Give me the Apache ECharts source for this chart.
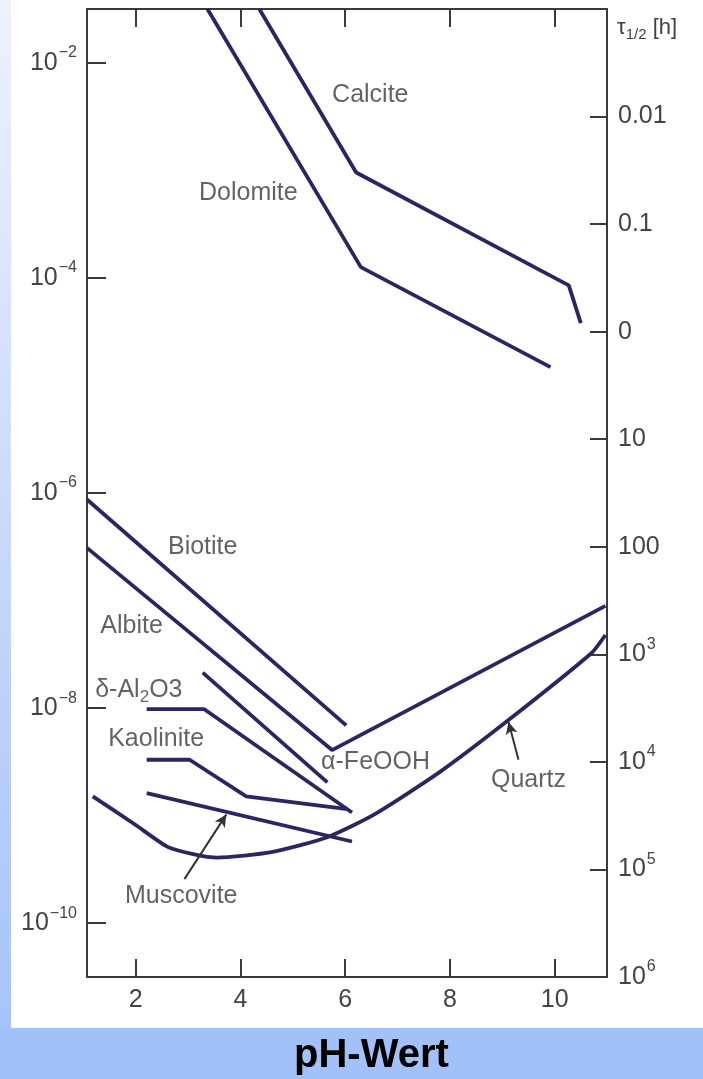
<!DOCTYPE html>
<html lang="de">
<head>
<meta charset="UTF-8">
<title>Auflösungsraten</title>
<style>
  * { margin: 0; padding: 0; }
  html, body { width: 703px; height: 1079px; overflow: hidden; background: #fff; }
  #main { width: 703px; height: 1079px; }
</style>
</head>
<body>
<div id="main"></div>
<script src="https://cdn.jsdelivr.net/npm/echarts@6/dist/echarts.min.js"></script>
<script>
// x = pH, y = log10 der Auflösungsrate
const xTicks = [2, 4, 6, 8, 10];
const yTicks = [-10, -8, -6, -4, -2];
// rechte Achse: log10 tau_1/2 [h], oben -3, unten 6
const tauTicks = [-2, -1, 0, 1, 2, 3, 4, 5, 6];
const tauBase = ['0.01', '0.1', '0', '10', '100', '10', '10', '10', '10'];
const tauSup = ['', '', '', '', '', '3', '4', '5', '6'];

const calcite = [[4.36, -1.5], [6.21, -3.02], [10.27, -4.07], [10.5, -4.42]];
const dolomite = [[3.37, -1.5], [6.3, -3.9], [9.92, -4.83]];
const biotite = [[1.07, -6.06], [6.02, -8.16]];
const albite = [[1.07, -6.51], [5.75, -8.39], [10.97, -7.05]];
const feooh = [[3.28, -7.67], [5.66, -8.69]];
const alumina = [[2.21, -8.01], [3.31, -8.01], [6.13, -8.97]];
const kaolinite = [[2.21, -8.48], [3.03, -8.48], [4.11, -8.82], [6.04, -8.94]];
const muscovite = [[2.21, -8.79], [6.13, -9.24]];
const quartz = [[1.18, -8.82], [1.98, -9.08], [2.61, -9.29], [3.12, -9.36], [3.56, -9.39], [4.59, -9.34],
  [5.66, -9.2], [6.55, -8.99], [7.79, -8.6], [9.07, -8.13], [10.7, -7.49], [10.97, -7.32]];

const labelNames = ['Calcite', 'Dolomite', 'Biotite', 'Albite', 'δ-Al{sub|2}O3', 'Kaolinite', 'α-FeOOH', 'Quartz', 'Muscovite'];
const labelAt = [[6.48, -2.3], [4.15, -3.21], [3.28, -6.5], [1.92, -7.24], [2.06, -7.83], [2.39, -8.29], [6.58, -8.5], [9.5, -8.67], [2.87, -9.75]];

const arrows = [
  [[2.93, -9.59], [3.73, -8.99]],
  [[9.31, -8.48], [9.12, -8.13]]
];

const lineColor = '#2a2662';
const axisColor = '#3a3a3a';
const font = '"Liberation Sans", Arial, sans-serif';

// hochgestellte Exponenten: großer Zeilenraum für die Basis, Exponent oben
const supRich = {
  n: { color: '#444', fontFamily: font, fontSize: 25, lineHeight: 36 },
  s: { color: '#444', fontFamily: font, fontSize: 16, lineHeight: 16, verticalAlign: 'top', padding: [0, 0, 0, 1] }
};

function curve(name, data, smooth) {
  return {
    name: name,
    type: 'line',
    data: data,
    showSymbol: false,
    smooth: smooth || false,
    silent: true,
    lineStyle: { color: lineColor, width: 3.8 },
    z: 3
  };
}

const series = [
  curve('Calcite', calcite),
  curve('Dolomite', dolomite),
  curve('Biotite', biotite),
  curve('Albite', albite),
  curve('α-FeOOH', feooh),
  curve('δ-Al2O3', alumina),
  curve('Kaolinite', kaolinite),
  curve('Muscovite', muscovite),
  curve('Quartz', quartz, 0.2),
  {
    type: 'scatter',
    silent: true,
    symbolSize: 1,
    itemStyle: { color: 'rgba(0,0,0,0)' },
    data: labelNames.map((n, i) => ({ name: n, value: labelAt[i] })),
    label: {
      show: true,
      position: 'inside',
      formatter: p => p.name,
      color: '#3c3c3c',
      fontFamily: font,
      fontSize: 25,
      lineHeight: 32,
      rich: {
        sub: { fontSize: 17, lineHeight: 17, verticalAlign: 'bottom', color: '#3c3c3c', fontFamily: font }
      }
    },
    markLine: {
      silent: true,
      symbol: ['none', 'arrow'],
      symbolSize: [9, 12],
      label: { show: false },
      lineStyle: { color: '#333', width: 2, type: 'solid' },
      data: arrows.map(a => [{ coord: a[0] }, { coord: a[1] }])
    }
  }
];

const option = {
  animation: false,
  backgroundColor: '#fff',
  grid: { left: 87, right: 96, top: 9, bottom: 102 },
  graphic: [
    {
      type: 'rect', left: 0, top: 0, z: -10,
      shape: { width: 11, height: 1028 },
      style: {
        fill: new echarts.graphic.LinearGradient(0, 0, 0, 1, [
          { offset: 0, color: '#edf1fc' },
          { offset: 1, color: '#a6c3f9' }
        ])
      }
    },
    {
      type: 'rect', left: 0, top: 1028, z: -10,
      shape: { width: 703, height: 51 },
      style: { fill: '#a3c1f9' }
    },
    {
      type: 'text', left: 294, top: 1036,
      style: { text: 'pH-Wert', fontFamily: font, fontWeight: 'bold', fontSize: 40, fill: '#000' }
    },
    {
      type: 'text', left: 617, top: 14,
      style: {
        text: 'τ{sub|1/2} [h]',
        fontFamily: font, fontSize: 22, lineHeight: 28, fill: '#404040',
        rich: { sub: { fontSize: 15, lineHeight: 15, verticalAlign: 'bottom', fill: '#404040' } }
      }
    }
  ],
  xAxis: [
    {
      type: 'value', min: 1.07, max: 11, position: 'bottom',
      axisLine: { show: true, onZero: false, lineStyle: { color: axisColor, width: 2 } },
      axisTick: { show: true, inside: true, length: 18, customValues: xTicks, lineStyle: { color: axisColor, width: 2 } },
      axisLabel: { customValues: xTicks, color: '#444', fontFamily: font, fontSize: 25, margin: 11 },
      splitLine: { show: false }
    },
    {
      type: 'value', min: 1.07, max: 11, position: 'top',
      axisLine: { show: true, onZero: false, lineStyle: { color: axisColor, width: 2 } },
      axisTick: { show: true, inside: true, length: 18, customValues: xTicks, lineStyle: { color: axisColor, width: 2 } },
      axisLabel: { show: false },
      splitLine: { show: false }
    }
  ],
  yAxis: [
    {
      type: 'value', min: -10.5, max: -1.5, position: 'left',
      axisLine: { show: true, onZero: false, lineStyle: { color: axisColor, width: 2 } },
      axisTick: { show: true, inside: true, length: 19, customValues: yTicks, lineStyle: { color: axisColor, width: 2 } },
      axisLabel: {
        customValues: yTicks,
        margin: 10,
        formatter: v => '{n|10}{s|−' + Math.abs(v) + '}',
        rich: supRich
      },
      splitLine: { show: false }
    },
    {
      type: 'value', min: -3, max: 6, inverse: true, position: 'right',
      axisLine: { show: true, onZero: false, lineStyle: { color: axisColor, width: 2 } },
      axisTick: { show: true, inside: true, length: 17, customValues: tauTicks.slice(0, 8), lineStyle: { color: axisColor, width: 2 } },
      axisLabel: {
        customValues: tauTicks,
        margin: 11,
        formatter: v => {
          const i = tauTicks.indexOf(v);
          return '{n|' + tauBase[i] + '}' + (tauSup[i] ? '{s|' + tauSup[i] + '}' : '');
        },
        rich: supRich
      },
      splitLine: { show: false }
    }
  ],
  series: series
};

const chart = echarts.init(document.getElementById('main'));
chart.setOption(option);
window.addEventListener('resize', () => chart.resize());
</script>
</body>
</html>
